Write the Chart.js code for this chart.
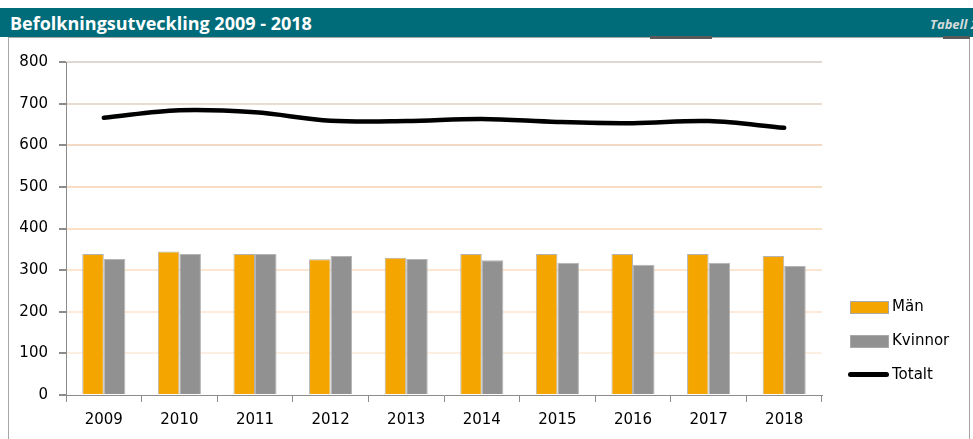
<!DOCTYPE html>
<html lang="sv">
<head>
<meta charset="UTF-8">
<title>Befolkningsutveckling 2009 - 2018</title>
<script src="https://cdn.jsdelivr.net/npm/chart.js"></script>
<style>
  body { margin: 0; background: #fff; width: 973px; height: 439px; overflow: hidden; position: relative; font-family: "DejaVu Sans", Verdana, sans-serif; }
  #header { position: absolute; left: 0; top: 8px; width: 973px; height: 29px; background: #006c7a; overflow: hidden; }
  #header .title { position: absolute; left: 10px; top: 3px; color: #fff; font: bold 18px "Liberation Sans Narrow", "Open Sans", sans-serif; }
  #header .tab { position: absolute; left: 930px; top: 7px; color: #d4dcdc; font: italic bold 13px "Liberation Sans Narrow", "Open Sans", sans-serif; white-space: nowrap; }
  .mark { position: absolute; top: 36px; height: 3px; background: #5a5a5a; }
  #box { position: absolute; left: 8px; top: 37px; width: 960px; height: 420px; border: 1px solid #a6a6a6; }
  #wrap { position: absolute; left: 0; top: 0; width: 973px; height: 439px; }
  #legend { position: absolute; left: 848px; top: 297px; font-size: 15px; color: #000; }
  #legend .item { position: relative; height: 34px; }
  #legend .sw { position: absolute; left: 2px; top: 4px; width: 37px; height: 11px; border: 1px solid #a8a8a8; }
  #legend .ln { position: absolute; left: 0px; top: 7px; width: 41px; height: 5px; border-radius: 3px; background: #000; }
  #legend .lbl { position: absolute; left: 44px; top: 0px; white-space: nowrap; }
</style>
</head>
<body>
<div id="header"><span class="title">Befolkningsutveckling 2009 - 2018</span><span class="tab">Tabell 2</span></div>
<div id="box"></div>
<div class="mark" style="left:650px;width:62px"></div>
<div class="mark" style="left:943px;width:27px"></div>
<div id="wrap"><canvas id="chart" width="973" height="439"></canvas></div>
<div id="legend"></div>
<script>
const years = ['2009', '2010', '2011', '2012', '2013', '2014', '2015', '2016', '2017', '2018'];
const man = [339, 345, 339, 326, 330, 339, 339, 339, 339, 334];
const kvinnor = [327, 339, 339, 334, 327, 324, 318, 313, 318, 310];
const totalt = [666, 684, 679, 659, 658, 663, 656, 653, 658, 642];
const yTicks = [0, 100, 200, 300, 400, 500, 600, 700, 800];

// grid lines fade from grey-beige at the top to pale peach at the bottom
const gridColors = {
  100: '#fdefe2', 200: '#fdeadb', 300: '#fde6d0', 400: '#fde1c5',
  500: '#f9ddc3', 600: '#f2d9c5', 700: '#e9dcd0', 800: '#dfd9d3'
};

const ctx = document.getElementById('chart').getContext('2d');
Chart.defaults.font.family = '"DejaVu Sans", Verdana, sans-serif';
Chart.defaults.color = '#000';

const chart = new Chart(ctx, {
  data: {
    labels: years,
    datasets: [
      {
        type: 'line', label: 'Totalt', data: totalt,
        borderColor: '#000', borderWidth: 4.5, pointRadius: 0,
        tension: 0.35, borderCapStyle: 'round', order: 0
      },
      {
        type: 'bar', label: 'Män', data: man,
        backgroundColor: '#f4a500', borderColor: '#b4b4b4', borderWidth: 1, order: 1
      },
      {
        type: 'bar', label: 'Kvinnor', data: kvinnor,
        backgroundColor: '#919191', borderColor: '#b4b4b4', borderWidth: 1, order: 1
      }
    ]
  },
  options: {
    responsive: false,
    animation: false,
    datasets: { bar: { categoryPercentage: 0.57, barPercentage: 1 } },
    layout: { padding: { top: 62, right: 151, left: 0, bottom: 0 } },
    plugins: { legend: { display: false }, tooltip: { enabled: false } },
    scales: {
      x: {
        afterFit: s => { s.height = 44; },
        grid: { offset: true, drawOnChartArea: false, tickLength: 7, tickColor: '#8c8c8c' },
        border: { color: '#8c8c8c', width: 1 },
        ticks: { font: { size: 15 }, padding: 9 }
      },
      y: {
        min: 0, max: 800,
        afterFit: s => { s.width = 66; },
        afterBuildTicks: s => { s.ticks = yTicks.map(v => ({ value: v })); },
        grid: {
          lineWidth: 2,
          color: c => c.tick && c.tick.value > 0 ? gridColors[c.tick.value] : 'rgba(0,0,0,0)',
          tickLength: 7, tickColor: '#8c8c8c'
        },
        border: { color: '#8c8c8c', width: 1 },
        ticks: { font: { size: 15 }, padding: 11 }
      }
    }
  }
});

// legend in the order of the reference: Män, Kvinnor, Totalt
const legend = document.getElementById('legend');
[1, 2, 0].forEach(i => {
  const ds = chart.data.datasets[i];
  const item = document.createElement('div');
  item.className = 'item';
  const mark = document.createElement('div');
  if (ds.type === 'line') {
    mark.className = 'ln';
  } else {
    mark.className = 'sw';
    mark.style.background = ds.backgroundColor;
  }
  const lbl = document.createElement('span');
  lbl.className = 'lbl';
  lbl.textContent = ds.label;
  item.appendChild(mark);
  item.appendChild(lbl);
  legend.appendChild(item);
});
</script>
</body>
</html>
